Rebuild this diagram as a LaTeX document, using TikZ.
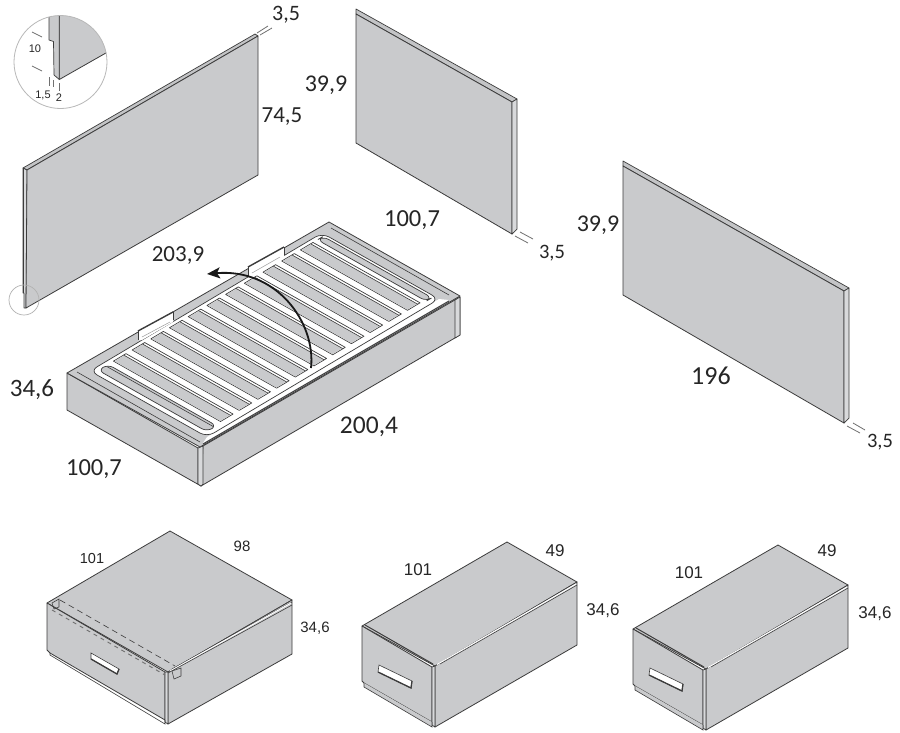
\documentclass[tikz,border=0pt]{standalone}
\usepackage{fontspec}
\setmainfont{Carlito}
\newfontfamily\arialf{Liberation Sans}
\usetikzlibrary{arrows.meta}
\definecolor{panelgray}{HTML}{C9CACC}
\definecolor{striplight}{HTML}{D8D9DB}
\definecolor{striptop}{HTML}{C3C4C6}
\definecolor{edgedark}{HTML}{3C3C3C}
\definecolor{tickgray}{HTML}{707070}
\tikzset{
  x=1pt,y=-1pt,
  face/.style={fill=panelgray,draw=edgedark,line width=.8pt,line join=round},
  stripface/.style={fill=striplight,draw=edgedark,line width=.7pt,line join=round},
  topstrip/.style={fill=striptop,draw=edgedark,line width=.7pt,line join=round},
  tick/.style={draw=tickgray,line width=.8pt},
  thin edge/.style={draw=edgedark,line width=.6pt},
  lab/.style={inner sep=0pt,text=black!85},
  bigl/.style={lab,font=\fontsize{#1}{#1}\selectfont},
  smalll/.style={lab,font=\arialf\fontsize{#1}{#1}\selectfont},
  slot/.style={fill=panelgray,draw=edgedark,line width=.7pt,line join=round},
}
\newcommand{\drawerbox}{%
  \path[face] (362,626) -- (507,542) -- (577,582) -- (435,666) -- cycle;
  \path[face] (577,582) -- (577,645) -- (435,727) -- (435,666) -- cycle;
  \path[face] (362,626) -- (432,667) -- (432,722) -- (364,683) -- (362,681) -- cycle;
  \path[stripface] (432,667) -- (435,666) -- (435,727) -- (432,725) -- cycle;
  \draw[thin edge,line width=1pt] (365,625) -- (433,664);
  \draw[thin edge] (440,664) -- (577,585);
  \draw[white,line width=1pt] (437,664.5) -- (576,584);
  \draw[thin edge,fill=panelgray] (364,683) -- (364,687) -- (432,727) -- (432,722);
  \draw[thin edge,fill=white] (379,665) -- (412,681) -- (411,688) -- (378,672) -- cycle;
  \draw[edgedark,line width=1.3pt] (378,672) -- (411,688) -- (412,681);
}
\begin{document}
\begin{tikzpicture}
\useasboundingbox (0,0) rectangle (900,732);
\fill[white] (0,0) rectangle (900,732);

% headboard panel
\path[topstrip] (23,168) -- (255,34) -- (258,36) -- (27,170) -- cycle;
\path[stripface] (23,168) -- (27,170) -- (26,308) -- (24,308) -- (24,293) -- (23,293) -- cycle;
\path[face] (27,170) -- (258,36) -- (258,175) -- (26,308) -- cycle;
\draw[edgedark,line width=1pt] (23,168) -- (23,293);

% right-hand small panel
\path[topstrip] (356,9) -- (517,99) -- (512,102) -- (356,14) -- cycle;
\path[face] (356,14) -- (512,102) -- (512,234) -- (356,143) -- cycle;
\path[stripface] (512,102) -- (517,99) -- (517,229) -- (512,234) -- cycle;

% long panel
\path[topstrip] (623,161) -- (849,288) -- (844,291) -- (623,166) -- cycle;
\path[face] (623,166) -- (844,291) -- (844,423) -- (623,295) -- cycle;
\path[stripface] (844,291) -- (849,288) -- (849,418) -- (844,423) -- cycle;

% detail circle
\begin{scope}
  \clip (60.5,62) circle (46.5);
  \path[fill=panelgray] (59.3,0) -- (120,0) -- (120,45) -- (59.3,79.5) -- cycle;
  \draw[edgedark,line width=.8pt] (59.3,0) -- (59.3,79.5) -- (120,45);
  \path[fill=panelgray,draw=edgedark,line width=.7pt,line join=round]
     (49,0) -- (49,40) -- (53.5,41.5) -- (54,75) -- (59.3,79.5) -- (59.3,0) -- cycle;
\end{scope}
\draw[draw=black!28,line width=.8pt] (60.5,62) circle (46.5);
\draw[tick] (32,32) -- (42,37);
\draw[tick] (32,66) -- (42,71);
\draw[tick] (49,77) -- (49,86);
\draw[tick] (53.5,80) -- (53.5,87);
\draw[tick] (59.5,83) -- (59.5,91);
\node[smalll=11] (d10) at (35,49) {10};
\node[smalll=11] (d15) at (43,95) {1,5};
\node[smalll=11] (d2)  at (59,98) {2};
\draw[draw=black!30,line width=.7pt] (24,300) circle (15);

% bed base
\path[face] (67,373) -- (198,448) -- (198,484) -- (201,486) -- (67,410) -- cycle;
\path[face] (203,446) -- (460,297) -- (460,335) -- (201,486) -- cycle;
\path[stripface] (198,448) -- (203,446) -- (203,484) -- (201,486) -- (198,484) -- cycle;
\path[stripface] (455,300) -- (460,297) -- (460,335) -- (455,338) -- cycle;
\path[face] (67,373) -- (329,222) -- (460,296) -- (200,447) -- cycle;
\draw[thin edge] (77,372) -- (200,442);
\draw[thin edge] (331,228) -- (449,295);
% white front rail between frame and box edge
\path[fill=white] (207,437) -- (439,299) -- (449,300) -- (203,443) -- cycle;
% slatted frame
\begin{scope}[shift={(90,371)},x={(232pt,138pt)},y={(117pt,-66pt)}]
  \path[fill=white,draw=edgedark,line width=.7pt,rounded corners=8pt]
     (0,0) -- (1,0) -- (1,1) -- (0,1) -- cycle;
  \path[slot,rounded corners=6pt] (.02,.03) -- (.062,.03) -- (.062,.96) -- (.02,.96) -- cycle;
  \draw[thin edge] (.052,.045) -- (.052,.95);
  \foreach \u in {.086,.1666,.2472,.3278,.4084,.489,.5696,.6502,.7308,.8114,.892}{
    \path[fill=white,draw=edgedark,line width=.7pt,line join=round]
       (\u,.03) -- (\u+.054,.03) -- (\u+.054,.945) -- (\u,.945) -- cycle;
    \path[slot,draw=none] (\u+.002,.035) -- (\u+.044,.035) -- (\u+.044,.94) -- (\u+.002,.94) -- cycle;
    \draw[thin edge] (\u+.044,.03) -- (\u+.044,.945);
  }
  \path[slot,rounded corners=6pt] (.965,.03) -- (.99,.03) -- (.99,.96) -- (.965,.96) -- cycle;
\end{scope}
% front rail edge
\draw[edgedark,line width=.9pt] (203,444) -- (449,301);
% tabs
\path[fill=white] (138,330) -- (173,312) -- (173,322) -- (142,340) -- (138,340) -- cycle;
\draw[edgedark,line width=1.4pt] (138,331) -- (173,312);
\draw[thin edge] (138,331) -- (138,340) (173,312) -- (173,320);
\draw[black!40,line width=.5pt] (142,337) -- (170,322);
\path[fill=white] (248,266) -- (284,247) -- (284,257) -- (252,276) -- (248,276) -- cycle;
\draw[edgedark,line width=1.4pt] (248,267) -- (284,247);
\draw[thin edge] (248,267) -- (248,276) (284,247) -- (284,255);
\draw[black!40,line width=.5pt] (252,273) -- (280,257);
% lifting arrow
\coordinate (arrowstart) at (311,368);
\coordinate (arrowend) at (207,274);
\draw[black!90,line width=1.8pt,-{Stealth[length=13pt,width=11pt,inset=3pt]}]
   (arrowstart) .. controls (316,322) and (276,268) .. (arrowend);

% first drawer
\path[face] (47,603) -- (170,531) -- (292,600) -- (168,672) -- cycle;
\path[face] (292,600) -- (292,654) -- (168,724) -- (168,672) -- cycle;
\path[face] (47,603) -- (165,672) -- (165,720) -- (50,653) -- (47,650) -- cycle;
\path[stripface] (165,672) -- (168,672) -- (168,724) -- (165,722) -- cycle;
\draw[thin edge] (50,653) -- (50,655) -- (165,724) -- (165,720);
\draw[thin edge] (172,669) -- (292,602);
\draw[white,line width=1pt] (170,671) -- (291,603);
\draw[thin edge] (168,673) -- (292,605);
\draw[thin edge,dash pattern=on 6pt off 4pt] (60,600) -- (175,666);
\draw[tickgray,line width=.9pt,dash pattern=on 4pt off 4pt] (52,610) -- (165,675);
\draw[thin edge] (52,603) -- (59,599) -- (59,607) -- (54,609) -- cycle;
\draw[thin edge,fill=panelgray] (172,671) -- (181,668) -- (181,676) -- (174,679) -- cycle;
\draw[thin edge,fill=white] (91,653) -- (119,669) -- (117,674) -- (91,659) -- cycle;
\draw[edgedark,line width=1.3pt] (91,659) -- (117,674) -- (119,669);

% second and third drawers
\drawerbox
\begin{scope}[shift={(271,3)}]\drawerbox\end{scope}

% thickness ticks
\draw[tick] (257,33) -- (268,26) (260,35) -- (272,28);
\draw[tick] (520,232) -- (533,239) (515,236) -- (528,243);
\draw[tick] (853,423) -- (865,430) (847,426) -- (860,433);

% labels
\node[bigl=22] (t1) at (286,15) {3,5};
\node[bigl=23] (t2) at (282,117) {74,5};
\node[bigl=24] (t3) at (326,85) {39,9};
\node[bigl=24.5] (t4) at (412,220) {100,7};
\node[bigl=20.5] (t5) at (552,253) {3,5};
\node[bigl=24] (t6) at (598,225) {39,9};
\node[bigl=26] (t7) at (711,376) {196};
\node[bigl=20.5] (t8) at (880,442) {3,5};
\node[bigl=23] (t9) at (178,256) {203,9};
\node[bigl=25] (t10) at (32,390) {34,6};
\node[bigl=25.5] (t11) at (369,427) {200,4};
\node[bigl=24.5] (t12) at (94,469) {100,7};
\node[smalll=14.5] (s1) at (92,558) {101};
\node[smalll=15] (s2) at (242,546) {98};
\node[smalll=15] (s3) at (315,628) {34,6};
\node[smalll=17] (s4) at (418,570) {101};
\node[smalll=17] (s5) at (555,551) {49};
\node[smalll=17] (s6) at (603,611) {34,6};
\node[smalll=17] (s7) at (689,573) {101};
\node[smalll=17] (s8) at (827,551) {49};
\node[smalll=17] (s9) at (875,614) {34,6};
\end{tikzpicture}
\end{document}
